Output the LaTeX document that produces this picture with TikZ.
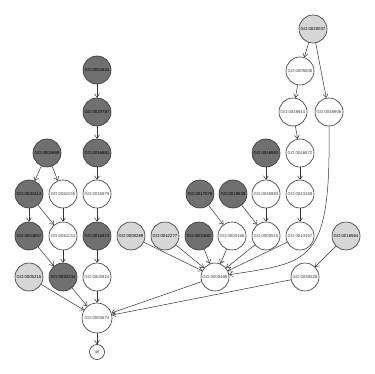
\documentclass[tikz,border=0pt]{standalone}
\usepackage{fontspec}
\setsansfont{Liberation Sans}
\usepackage{xcolor}
\usepackage{tikz}
\usetikzlibrary{arrows.meta}
\definecolor{sigdark}{HTML}{707070}
\definecolor{siglight}{HTML}{D6D6D6}
\definecolor{edgegray}{HTML}{333333}

\tikzset{
  goterm/.style={circle, draw=edgegray, line width=0.6pt, fill=white,
    minimum size=28pt, inner sep=0pt, text=black!75,
    font=\sffamily\fontsize{4.3}{5}\selectfont},
  godark/.style={goterm, fill=sigdark, text=black},
  golight/.style={goterm, fill=siglight, text=black},
  goedge/.style={draw=edgegray, line width=0.5pt,
    -{Straight Barb[length=3.5pt,width=5pt]}}
}

\begin{document}
\begin{tikzpicture}[x=1pt, y=-1pt]
\useasboundingbox (0,0) rectangle (374,374);

\node[golight] (g20037) at (313,29) {GO:0020037};

\node[godark] (g4842) at (97,70) {GO:0004842};
\node[goterm] (g5506) at (300,71) {GO:0005506};

\node[godark] (g19787) at (97,112) {GO:0019787};
\node[goterm] (g46914) at (293,112) {GO:0046914};
\node[goterm] (g46906) at (329,112) {GO:0046906};

\node[godark] (g4869) at (47,153) {GO:0004869};
\node[godark] (g16881) at (97,153) {GO:0016881};
\node[godark] (g46982) at (266,153) {GO:0046982};
\node[goterm] (g46872) at (300,153) {GO:0046872};

\node[godark] (g30414) at (29,194) {GO:0030414};
\node[goterm] (g61135) at (63,194) {GO:0061135};
\node[goterm] (g16879) at (97,194) {GO:0016879};
\node[godark] (g17076) at (200,194) {GO:0017076};
\node[godark] (g19838) at (233,194) {GO:0019838};
\node[goterm] (g46983) at (266,194) {GO:0046983};
\node[goterm] (g43169) at (300,194) {GO:0043169};

\node[godark] (g4857) at (29,236) {GO:0004857};
\node[goterm] (g61134) at (63,236) {GO:0061134};
\node[godark] (g16874) at (97,236) {GO:0016874};
\node[golight] (g8289) at (131,236) {GO:0008289};
\node[golight] (g42277) at (165,236) {GO:0042277};
\node[godark] (g1882) at (199,236) {GO:0001882};
\node[goterm] (g166) at (232,236) {GO:0000166};
\node[goterm] (g5515) at (266,236) {GO:0005515};
\node[goterm] (g43167) at (300,236) {GO:0043167};
\node[golight] (g16564) at (346,236) {GO:0016564};

\node[golight] (g5215) at (29,277) {GO:0005215};
\node[godark] (g30234) at (63,277) {GO:0030234};
\node[goterm] (g3824) at (97,277) {GO:0003824};
\node[goterm] (g5488) at (215,277) {GO:0005488};
\node[goterm] (g30528) at (305,277) {GO:0030528};

\node[goterm, minimum size=30pt] (g3674) at (97,318) {GO:0003674};
\node[goterm, minimum size=15pt] (gall) at (97,352) {all};

\draw[goedge] (g4842) -- (g19787);
\draw[goedge] (g19787) -- (g16881);
\draw[goedge] (g16881) -- (g16879);
\draw[goedge] (g16879) -- (g16874);
\draw[goedge] (g16874) -- (g3824);
\draw[goedge] (g3824) -- (g3674);

\draw[goedge] (g4869) -- (g30414);
\draw[goedge] (g4869) -- (g61135);
\draw[goedge] (g30414) -- (g4857);
\draw[goedge] (g30414) -- (g61134);
\draw[goedge] (g61135) -- (g61134);
\draw[goedge] (g4857) -- (g30234);
\draw[goedge] (g61134) -- (g30234);
\draw[goedge] (g30234) -- (g3674);
\draw[goedge] (g5215) -- (g3674);

\draw[goedge] (g20037) -- (g5506);
\draw[goedge] (g20037) -- (g46906);
\draw[goedge] (g5506) -- (g46914);
\draw[goedge] (g46914) -- (g46872);
\draw[goedge] (g46872) -- (g43169);
\draw[goedge] (g43169) -- (g43167);
\draw[goedge] (g43167) -- (g5488);
\draw[goedge] (g46906.south) .. controls (331,265) and (310,262) .. (g5488);

\draw[goedge] (g46982) -- (g46983);
\draw[goedge] (g46983) -- (g5515);
\draw[goedge] (g19838) -- (g5515);
\draw[goedge] (g5515) -- (g5488);
\draw[goedge] (g17076) -- (g166);
\draw[goedge] (g166) -- (g5488);
\draw[goedge] (g1882) -- (g5488);
\draw[goedge] (g8289) -- (g5488);
\draw[goedge] (g42277) -- (g5488);

\draw[goedge] (g16564) -- (g30528);
\draw[goedge] (g30528) -- (g3674);
\draw[goedge] (g5488) -- (g3674);
\draw[goedge] (g3674) -- (gall);
\end{tikzpicture}
\end{document}
